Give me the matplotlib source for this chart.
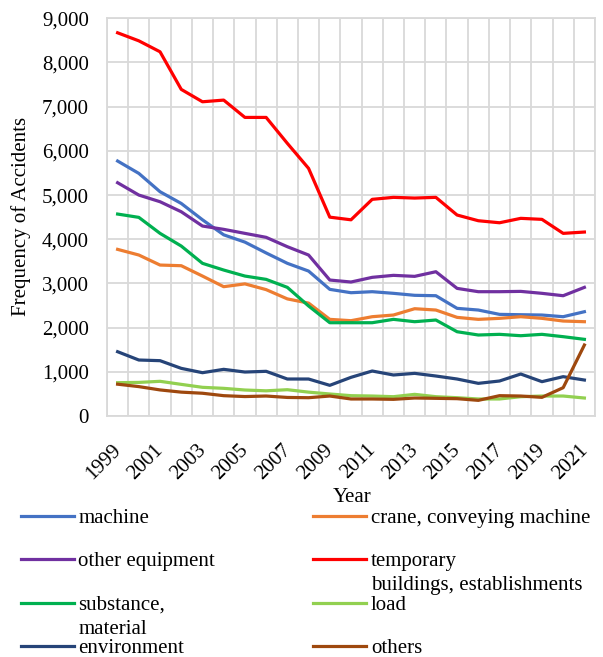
import matplotlib
matplotlib.use("Agg")
import matplotlib.pyplot as plt
from matplotlib.lines import Line2D
from matplotlib.transforms import ScaledTranslation
from matplotlib.ticker import FuncFormatter, MultipleLocator, FixedLocator

years = list(range(1999, 2022))
machine = [5770, 5490, 5075, 4810, 4440, 4100, 3935, 3690, 3455, 3280, 2866, 2790, 2813, 2776, 2731, 2722, 2436, 2398, 2300, 2292, 2285, 2247, 2360]
crane = [3771, 3643, 3416, 3401, 3167, 2926, 2990, 2860, 2650, 2555, 2187, 2157, 2247, 2285, 2428, 2398, 2232, 2187, 2210, 2247, 2210, 2149, 2134]
other_equipment = [5279, 5000, 4849, 4622, 4299, 4224, 4133, 4043, 3831, 3643, 3077, 3032, 3138, 3183, 3160, 3265, 2888, 2813, 2813, 2820, 2776, 2722, 2911]
temporary = [8672, 8490, 8242, 7391, 7111, 7149, 6757, 6757, 6170, 5604, 4500, 4440, 4903, 4948, 4932, 4948, 4548, 4419, 4373, 4473, 4450, 4133, 4163]
substance = [4570, 4495, 4133, 3846, 3455, 3303, 3167, 3092, 2911, 2490, 2111, 2111, 2111, 2187, 2134, 2172, 1907, 1833, 1848, 1817, 1848, 1795, 1735]
load = [754, 760, 785, 716, 649, 626, 588, 570, 595, 540, 498, 460, 452, 437, 490, 437, 414, 385, 385, 437, 452, 452, 407]
environment = [1455, 1267, 1252, 1078, 980, 1056, 995, 1011, 837, 837, 694, 875, 1018, 928, 965, 905, 837, 739, 792, 950, 777, 890, 814]
others = [720, 665, 590, 540, 515, 460, 440, 452, 420, 414, 452, 385, 385, 377, 407, 400, 392, 354, 460, 452, 422, 641, 1606]

series = [
    ("machine", machine, "#4472C4"),
    ("crane, conveying machine", crane, "#ED7D31"),
    ("other equipment", other_equipment, "#7030A0"),
    ("temporary\nbuildings, establishments", temporary, "#FF0000"),
    ("substance,\nmaterial", substance, "#00B050"),
    ("load", load, "#92D050"),
    ("environment", environment, "#264478"),
    ("others", others, "#9E480E"),
]

plt.rcParams['font.family'] = ['Liberation Serif', 'DejaVu Serif']

W, H = 603, 657
fig = plt.figure(figsize=(W / 100, H / 100), dpi=100)
ax = fig.add_axes([107 / W, 1 - 416 / H, (595 - 107) / W, (416 - 18.3) / H])

x = list(range(len(years)))
for name, vals, col in series:
    ax.plot(x, vals, color=col, lw=2.3, solid_joinstyle='round', zorder=3)

ax.set_xlim(-0.5, len(years) - 0.5)
ax.set_ylim(0, 9000)
ax.yaxis.set_major_locator(MultipleLocator(1000))
ax.yaxis.set_major_formatter(FuncFormatter(lambda v, p: f"{int(v):,}"))
ax.xaxis.set_major_locator(FixedLocator(x[::2]))
ax.set_xticklabels([str(y) for y in years[::2]])
ax.xaxis.set_minor_locator(FixedLocator([i - 0.5 for i in range(len(years) + 1)]))

gc = "#D9D9D9"
ax.grid(True, which='major', axis='y', color=gc, lw=1.3, zorder=0)
ax.grid(True, which='minor', axis='x', color=gc, lw=1.3, zorder=0)
for s in ax.spines.values():
    s.set_color(gc)
    s.set_linewidth(1.3)

ax.tick_params(axis='both', which='both', length=0, labelsize=15)
ax.tick_params(axis='y', pad=13)
ax.tick_params(axis='x', pad=17.5)
shift = ScaledTranslation(-6 / 100, 0, fig.dpi_scale_trans)
for lab in ax.get_xticklabels():
    lab.set_rotation(45)
    lab.set_ha('right')
    lab.set_va('top')
    lab.set_rotation_mode('anchor')
    lab.set_transform(lab.get_transform() + shift)

fig.text(21 / W, 1 - 216 / H, "Frequency of Accidents", rotation=90, ha='center', va='center', fontsize=15)
fig.text(352 / W, 1 - 497 / H, "Year", ha='center', va='center', fontsize=15)

# legend drawn manually to mimic the original layout
rows = [516, 559, 603, 646]
cols = [(20.5, 73.5, 78.5), (313, 366, 371)]
for k, (name, vals, col) in enumerate(series):
    r, c = divmod(k, 2)
    y = rows[r]
    x0, x1, xt = cols[c]
    fig.add_artist(Line2D([x0 / W, x1 / W], [1 - y / H, 1 - y / H], color=col, lw=2.3,
                          transform=fig.transFigure))
    for j, line in enumerate(name.split("\n")):
        fig.text(xt / W, 1 - (y + 7 + 24 * j) / H, line, ha='left', va='baseline', fontsize=15)

fig.savefig("out.png", dpi=100)
